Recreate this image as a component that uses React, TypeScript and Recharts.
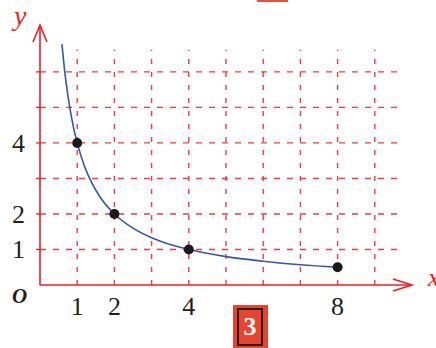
import {
  ComposedChart,
  Line,
  Scatter,
  XAxis,
  YAxis,
  ReferenceLine,
  ReferenceDot,
} from "recharts";

// curve y = 4/x
const curveX = [0.59, 0.65, 0.7, 0.8, 0.9, 1, 1.2, 1.4, 1.6, 2, 2.5, 3, 3.5, 4, 5, 6, 7, 8];
const curveY = [6.78, 6.15, 5.71, 5, 4.44, 4, 3.33, 2.86, 2.5, 2, 1.6, 1.33, 1.14, 1, 0.8, 0.67, 0.57, 0.5];

const pointX = [1, 2, 4, 8];
const pointY = [4, 2, 1, 0.5];

const xTickLabels = [1, 2, 4, 8];
const yTicks = [1, 2, 3, 4, 5, 6];
const yTickLabels = [1, 2, 4];

const gridX = [1, 2, 3, 4, 5, 6, 7, 8, 9];
const gridY = [1, 2, 3, 4, 5, 6];

const RED = "#ee1c25";
const GRID = "#f03a44";
const BLUE = "#3656a8";
const SERIF = "'Liberation Serif', 'Times New Roman', serif";

const X_MAX = 10;
const Y_MAX = 7.32;
const GRID_X_END = 9.62;
const GRID_Y_END = 6.62;

const curve = curveX.map((x, i) => ({ x, y: curveY[i] }));
const points = pointX.map((x, i) => ({ x, y: pointY[i] }));

const XTick = ({ x, y, payload }: any) => (
  <text x={x} y={y + 22} textAnchor="middle" fontFamily={SERIF} fontSize={26} fill="#231f20">
    {payload.value}
  </text>
);

const YTick = ({ y, payload }: any) =>
  yTickLabels.includes(payload.value) ? (
    <text x={18.5} y={y + 9} textAnchor="middle" fontFamily={SERIF} fontSize={26} fill="#231f20">
      {payload.value}
    </text>
  ) : (
    <g />
  );

export default function App() {
  return (
    <div style={{ position: "absolute", left: 0, top: 0, width: 436, height: 348, background: "#fff" }}>
      <ComposedChart
        width={436}
        height={348}
        margin={{ top: 25, right: 24, bottom: 0, left: 0 }}
      >
        <XAxis
          type="number"
          dataKey="x"
          domain={[0, X_MAX]}
          ticks={xTickLabels}
          tick={<XTick />}
          tickLine={false}
          axisLine={{ stroke: RED, strokeWidth: 1.6 }}
          height={63}
          allowDataOverflow
        />
        <YAxis
          type="number"
          dataKey="y"
          domain={[0, Y_MAX]}
          ticks={yTicks}
          tick={<YTick />}
          tickSize={4}
          tickLine={{ stroke: RED, strokeWidth: 1.3 }}
          axisLine={{ stroke: RED, strokeWidth: 1.6 }}
          width={40}
          allowDataOverflow
        />
        {gridY.map((g) => (
          <ReferenceLine
            key={"h" + g}
            segment={[{ x: 0, y: g }, { x: GRID_X_END, y: g }]}
            stroke={GRID}
            strokeWidth={1.4}
            strokeDasharray="6 7"
          />
        ))}
        {gridX.map((g) => (
          <ReferenceLine
            key={"v" + g}
            segment={[{ x: g, y: 0 }, { x: g, y: GRID_Y_END }]}
            stroke={GRID}
            strokeWidth={1.4}
            strokeDasharray="5 8"
          />
        ))}
        <ReferenceDot
          x={X_MAX}
          y={0}
          r={0}
          ifOverflow="visible"
          shape={(p: any) => (
            <path
              d={`M${p.cx - 19},${p.cy - 6}L${p.cx},${p.cy}L${p.cx - 19},${p.cy + 6}`}
              fill="none"
              stroke={RED}
              strokeWidth={1.6}
            />
          )}
        />
        <ReferenceDot
          x={0}
          y={Y_MAX}
          r={0}
          ifOverflow="visible"
          shape={(p: any) => (
            <path
              d={`M${p.cx - 7},${p.cy + 17}L${p.cx},${p.cy}L${p.cx + 7},${p.cy + 17}`}
              fill="none"
              stroke={RED}
              strokeWidth={1.6}
            />
          )}
        />
        <Line
          data={curve}
          dataKey="y"
          type="monotone"
          stroke={BLUE}
          strokeWidth={1.6}
          dot={false}
          activeDot={false}
          isAnimationActive={false}
        />
        <Scatter
          data={points}
          dataKey="y"
          fill="#1a1a1a"
          shape={(p: any) => <circle cx={p.cx} cy={p.cy} r={5} fill="#1a1a1a" />}
          isAnimationActive={false}
        />
      </ComposedChart>

      {/* axis names */}
      <span style={{ position: "absolute", left: 14, top: 2, fontFamily: SERIF, fontStyle: "italic", fontSize: 28, color: RED, lineHeight: 1 }}>
        y
      </span>
      <span style={{ position: "absolute", left: 428, top: 265, fontFamily: SERIF, fontStyle: "italic", fontSize: 26, color: RED, lineHeight: 1 }}>
        x
      </span>
      <span style={{ position: "absolute", left: 12, top: 286, fontFamily: SERIF, fontStyle: "italic", fontWeight: "bold", fontSize: 21, color: "#231f20", lineHeight: 1 }}>
        O
      </span>

      {/* red tab at top */}
      <div style={{ position: "absolute", left: 257, top: 0, width: 31, height: 2, background: "#f04a3a" }} />

      {/* red box with 3 */}
      <div style={{ position: "absolute", left: 233, top: 305, width: 35, height: 43, background: "#e8432e" }}>
        <div
          style={{
            position: "absolute",
            left: 4,
            top: 3,
            width: 22,
            height: 34,
            border: "2px solid #222",
            color: "#fff",
            fontFamily: SERIF,
            fontWeight: "bold",
            fontSize: 26,
            textAlign: "center",
            lineHeight: "34px",
          }}
        >
          3
        </div>
      </div>
    </div>
  );
}
